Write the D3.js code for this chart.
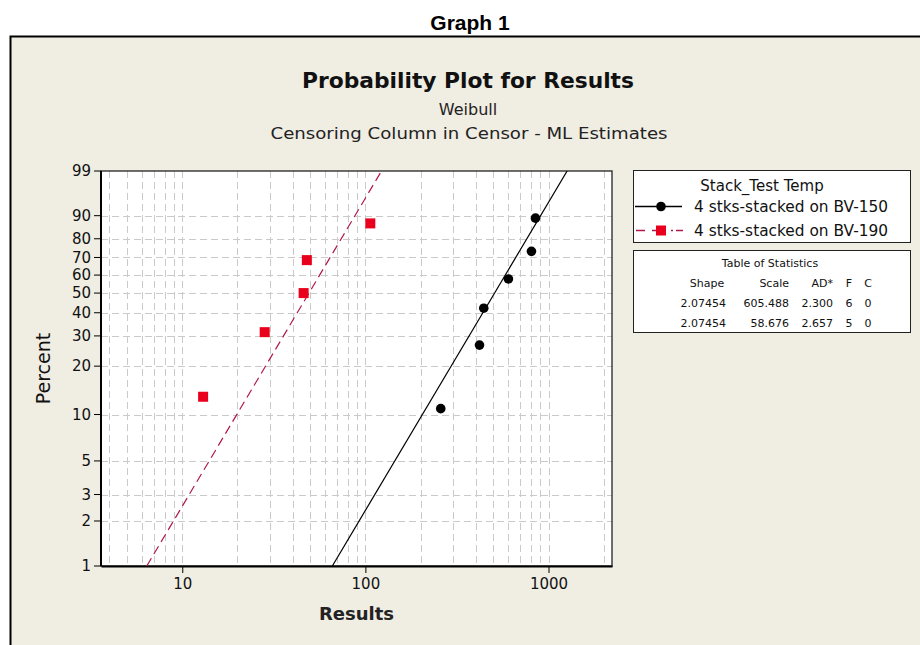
<!DOCTYPE html>
<html><head><meta charset="utf-8">
<script src="https://cdn.jsdelivr.net/npm/d3@7"></script>
<style>
html,body{margin:0;padding:0;background:#fff;}
svg{display:block;}
</style></head>
<body>
<svg id="chart" width="920" height="645"></svg>
<script>
// ---- data ----
const seriesNames = ["4 stks-stacked on BV-150", "4 stks-stacked on BV-190"];
const resultsBV150 = [258, 420, 443, 604, 807, 849];
const percentBV150 = [10.9, 26.6, 42.2, 57.8, 73.4, 89.1];
const resultsBV190 = [13.0, 28.2, 46.0, 47.9, 106.4];
const percentBV190 = [12.96, 31.48, 50.0, 68.52, 87.04];
// fitted lines (Results at 1% and 99%)
const fitResultsBV150 = [66.0, 1264];
const fitResultsBV190 = [6.4, 122.5];
const fitPercent = [1, 99];
const yTickValues = [1, 2, 3, 5, 10, 20, 30, 40, 50, 60, 70, 80, 90, 99];
const xTickValues = [10, 100, 1000];
const xGridValues = [4,5,6,7,8,9,10,20,30,40,50,60,70,80,90,100,200,300,400,500,600,700,800,900,1000,2000];
const statsHeader = ["Shape", "Scale", "AD*", "F", "C"];
const statsRows = [
  ["2.07454", "605.488", "2.300", "6", "0"],
  ["2.07454", "58.676", "2.657", "5", "0"]
];

// ---- drawing ----
const svg = d3.select("#chart");
const FONT = "Tahoma, 'DejaVu Sans', sans-serif";

// background frame
svg.append("rect").attr("x", 10).attr("y", 36).attr("width", 910).attr("height", 609).attr("fill", "#F0EDE3");
svg.append("path").attr("d", "M10.5,645 V36.5 H920").attr("fill", "none").attr("stroke", "#000").attr("stroke-width", 2);

svg.append("text").attr("x", 470).attr("y", 30).attr("text-anchor", "middle")
  .attr("font-family", "Liberation Sans, Arial, sans-serif").attr("font-weight", "bold").attr("font-size", 21)
  .text("Graph 1");

svg.append("text").attr("x", 468).attr("y", 88).attr("text-anchor", "middle")
  .attr("font-family", FONT).attr("font-weight", "bold").attr("font-size", 21).attr("fill", "#111")
  .attr("textLength", 332).attr("lengthAdjust", "spacingAndGlyphs")
  .text("Probability Plot for Results");
svg.append("text").attr("x", 468).attr("y", 115).attr("text-anchor", "middle")
  .attr("font-family", FONT).attr("font-size", 16).attr("fill", "#222")
  .text("Weibull");
svg.append("text").attr("x", 469).attr("y", 139).attr("text-anchor", "middle")
  .attr("font-family", FONT).attr("font-size", 16).attr("fill", "#222")
  .attr("textLength", 397).attr("lengthAdjust", "spacingAndGlyphs")
  .text("Censoring Column in Censor - ML Estimates");

const L = 101, R = 612, T = 171, B = 566;
const wb = p => Math.log(-Math.log(1 - p / 100));
const x = d3.scaleLog().domain([3.6, 2222]).range([L, R]);
const yw = d3.scaleLinear().domain([wb(1), wb(99)]).range([B, T]);
const y = p => yw(wb(p));

svg.append("rect").attr("x", L).attr("y", T).attr("width", R - L).attr("height", B - T).attr("fill", "#fff");

// grid
const grid = svg.append("g").attr("stroke", "#CACACA").attr("stroke-width", 1).attr("stroke-dasharray", "7,4");
grid.selectAll("line.v").data(xGridValues).join("line")
  .attr("x1", d => Math.round(x(d)) + 0.5).attr("x2", d => Math.round(x(d)) + 0.5)
  .attr("y1", T).attr("y2", B);
grid.selectAll("line.h").data(yTickValues.filter(d => d !== 1 && d !== 99)).join("line")
  .attr("x1", L).attr("x2", R)
  .attr("y1", d => Math.round(y(d)) + 0.5).attr("y2", d => Math.round(y(d)) + 0.5);

// frame
svg.append("rect").attr("x", L).attr("y", T).attr("width", R - L).attr("height", B - T)
  .attr("fill", "none").attr("stroke", "#222").attr("stroke-width", 1.3);

// axes
const xAxis = d3.axisBottom(x).tickValues(xTickValues).tickFormat(d3.format("d")).tickSize(7).tickSizeOuter(0).tickPadding(5);
const gx = svg.append("g").attr("transform", `translate(0,${B})`).call(xAxis);
gx.select(".domain").attr("stroke", "#000").attr("stroke-width", 2);
gx.selectAll(".tick line").attr("stroke", "#000");
gx.selectAll("text").attr("font-family", FONT).attr("font-size", 15).attr("fill", "#111");

const gy = svg.append("g").attr("transform", `translate(${L},0)`);
const yt = gy.selectAll("g.tick").data(yTickValues).join("g").attr("class", "tick")
  .attr("transform", d => `translate(0,${y(d)})`);
yt.append("line").attr("x1", -7).attr("x2", 0).attr("stroke", "#000");
yt.append("text").attr("x", -10).attr("dy", "0.35em").attr("text-anchor", "end")
  .attr("font-family", FONT).attr("font-size", 15).attr("fill", "#111").text(d => d);
gy.append("line").attr("x1", 0).attr("x2", 0).attr("y1", T).attr("y2", B).attr("stroke", "#000").attr("stroke-width", 2);

svg.append("text").attr("transform", `translate(50,${(T + B) / 2}) rotate(-90)`).attr("text-anchor", "middle")
  .attr("font-family", FONT).attr("font-size", 19).attr("fill", "#111").text("Percent");
svg.append("text").attr("x", (L + R) / 2).attr("y", 620).attr("text-anchor", "middle")
  .attr("font-family", FONT).attr("font-size", 18).attr("font-weight", "bold").attr("fill", "#222").text("Results");

// fitted lines
svg.append("clipPath").attr("id", "pc").append("rect").attr("x", L).attr("y", T).attr("width", R - L).attr("height", B - T);
const lineGen = d3.line().x(d => x(d[0])).y(d => y(d[1]));
svg.append("path").datum(d3.zip(fitResultsBV150, fitPercent)).attr("d", lineGen)
  .attr("fill", "none").attr("stroke", "#000").attr("stroke-width", 1.2).attr("clip-path", "url(#pc)");
svg.append("path").datum(d3.zip(fitResultsBV190, fitPercent)).attr("d", lineGen)
  .attr("fill", "none").attr("stroke", "#B0184A").attr("stroke-width", 1.2).attr("stroke-dasharray", "9,5").attr("clip-path", "url(#pc)");

// points
svg.append("g").selectAll("circle").data(d3.zip(resultsBV150, percentBV150)).join("circle")
  .attr("cx", d => x(d[0])).attr("cy", d => y(d[1])).attr("r", 4.8).attr("fill", "#000");
svg.append("g").selectAll("rect").data(d3.zip(resultsBV190, percentBV190)).join("rect")
  .attr("x", d => x(d[0]) - 5).attr("y", d => y(d[1]) - 5).attr("width", 10).attr("height", 10).attr("fill", "#E8001C");

// legend
const lg = svg.append("g");
lg.append("rect").attr("x", 633.5).attr("y", 170.5).attr("width", 277).attr("height", 72).attr("fill", "#fff").attr("stroke", "#222");
lg.append("text").attr("x", 762).attr("y", 191).attr("text-anchor", "middle").attr("font-family", FONT).attr("font-size", 15).attr("fill", "#111").text("Stack_Test Temp");
lg.append("line").attr("x1", 635).attr("x2", 682).attr("y1", 206.5).attr("y2", 206.5).attr("stroke", "#000").attr("stroke-width", 1.3);
lg.append("circle").attr("cx", 661).attr("cy", 206.5).attr("r", 4.8).attr("fill", "#000");
lg.append("line").attr("x1", 636).attr("x2", 683).attr("y1", 230.5).attr("y2", 230.5).attr("stroke", "#B0184A").attr("stroke-width", 1.3).attr("stroke-dasharray", "9,7,12,7,2,3");
lg.append("rect").attr("x", 656).attr("y", 225.5).attr("width", 10).attr("height", 10).attr("fill", "#E8001C");
lg.selectAll("text.s").data(seriesNames).join("text").attr("class", "s")
  .attr("x", 694).attr("y", (d, i) => 212 + i * 23.5).attr("font-family", FONT).attr("font-size", 15).attr("fill", "#111")
  .attr("textLength", 194).attr("lengthAdjust", "spacingAndGlyphs").text(d => d);

// stats table
const st = svg.append("g");
st.append("rect").attr("x", 633.5).attr("y", 250.5).attr("width", 277).attr("height", 82).attr("fill", "#fff").attr("stroke", "#222");
st.append("text").attr("x", 770).attr("y", 267).attr("text-anchor", "middle").attr("font-family", FONT).attr("font-size", 11).attr("fill", "#111").text("Table of Statistics");
const colX = [726, 789, 833, 849, 868];
const colAnchor = ["end", "end", "end", "middle", "middle"];
[statsHeader].concat(statsRows).forEach((row, ri) => {
  st.selectAll(null).data(row).join("text")
    .attr("x", (d, i) => ri === 0 && i === 0 ? 707 : colX[i])
    .attr("y", 287 + ri * 20)
    .attr("text-anchor", (d, i) => ri === 0 && i === 0 ? "middle" : colAnchor[i])
    .attr("font-family", FONT).attr("font-size", 11).attr("fill", "#111").text(d => d);
});
</script>
</body></html>
